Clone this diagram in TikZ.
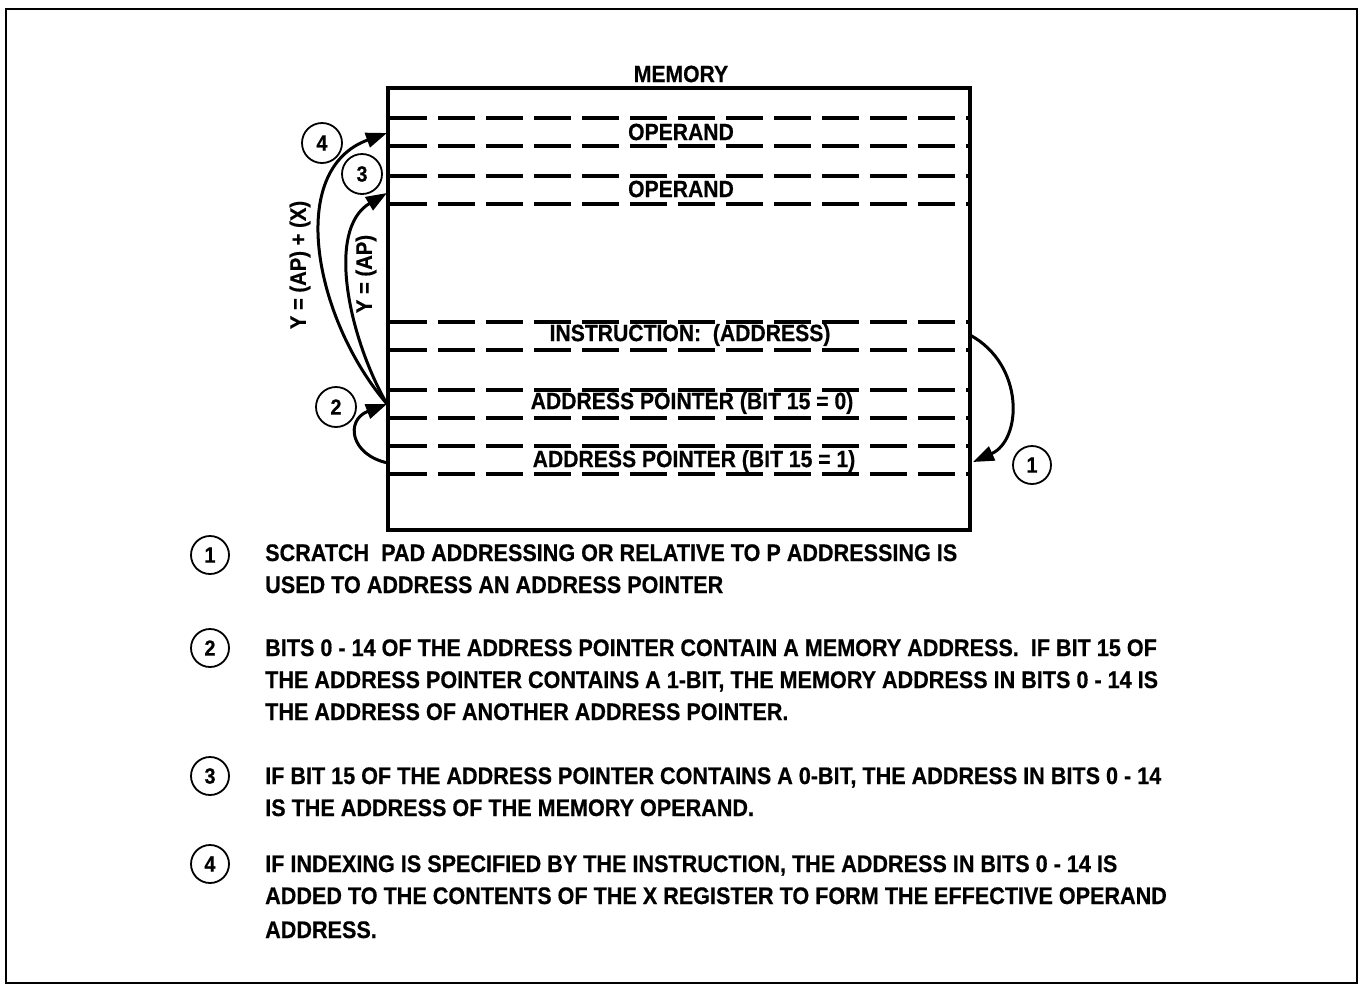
\documentclass[tikz,border=0pt]{standalone}
\usepackage{fontspec}
\setmainfont{Liberation Sans}[FakeStretch=0.9,BoldFeatures={FakeBold=0.5}]
\usetikzlibrary{arrows.meta}
\begin{document}
\begin{tikzpicture}[x=1pt,y=-1pt,
  frame/.style={line width=2pt},
  membox/.style={line width=4pt},
  rowline/.style={line width=3.2pt,dash pattern=on 37pt off 11pt},
  rowtext/.style={font=\fontsize{23.5}{23.5}\selectfont\bfseries,inner sep=0pt},
  numc/.style={circle,draw,line width=1.8pt,minimum size=38pt,inner sep=0pt,font=\fontsize{22}{22}\selectfont\bfseries},
  arr/.style={line width=3pt,-{Triangle[length=21pt,width=15pt]}},
  legtext/.style={anchor=base west,inner sep=0pt,font=\fontsize{24}{24}\selectfont\bfseries},
  sidelab/.style={rotate=90,inner sep=0pt,font=\fontsize{22.5}{22.5}\selectfont\bfseries}]
\useasboundingbox (0,0) rectangle (1364,986);
\draw[frame] (6,9) rectangle (1357,983);
% memory box
\draw[membox] (388,88) rectangle (970,530);
\node[rowtext] (memlab) at (681,74) {MEMORY};
% dashed rows
\foreach \yy in {118,146,176,204,322,350,390,418,446,474}
  \draw[rowline] (390,\yy) -- (968,\yy);
\node[rowtext] (op1) at (681,132) {OPERAND};
\node[rowtext] (op2) at (681,189) {OPERAND};
\node[rowtext] (instr) at (690,335) {INSTRUCTION:\ \ (ADDRESS)};
\node[rowtext] (ap0) at (692,403) {ADDRESS POINTER (BIT 15 = 0)};
\node[rowtext] (ap1) at (694,461) {ADDRESS POINTER (BIT 15 = 1)};
% connection points
\coordinate (instrR) at (970,335);
\coordinate (ap1R) at (973,462);
\coordinate (ap1L) at (388,463);
\coordinate (ap0L) at (387,404);
\coordinate (op2L) at (387,193);
\coordinate (op1L) at (387,133);
% arrows
\draw[arr] (instrR) .. controls (1025,365) and (1022,440) .. (ap1R);
\draw[arr] (ap1L) .. controls (350,455) and (345,420) .. (ap0L);
\draw[arr] (ap0L) .. controls (350,340) and (325,230) .. (op2L);
\draw[arr] (ap0L) .. controls (315,320) and (285,170) .. (op1L);
% circled numbers in diagram
\node[numc,minimum size=40pt] (c4) at (322,143) {4};
\node[numc,minimum size=40pt] (c3) at (362,174) {3};
\node[numc,minimum size=40pt] (c2) at (336,407) {2};
\node[numc] (c1) at (1032,465) {1};
\node[sidelab] (lab4) at (300,265) {Y = (AP) + (X)};
\node[sidelab] (lab3) at (366,274) {Y = (AP)};
% legend
\node[numc] (n1) at (210,555) {1};
\node[numc] (n2) at (210,648) {2};
\node[numc] (n3) at (210,776) {3};
\node[numc] (n4) at (210,864) {4};
\node[legtext] (t1a) at (265,561) {SCRATCH\ \ PAD ADDRESSING OR RELATIVE TO P ADDRESSING IS};
\node[legtext] (t1b) at (265,593) {USED TO ADDRESS AN ADDRESS POINTER};
\node[legtext] (t2a) at (265,656) {BITS 0 - 14 OF THE ADDRESS POINTER CONTAIN A MEMORY ADDRESS.\ \ IF BIT 15 OF};
\node[legtext] (t2b) at (265,688) {THE ADDRESS POINTER CONTAINS A 1-BIT, THE MEMORY ADDRESS IN BITS 0 - 14 IS};
\node[legtext] (t2c) at (265,720) {THE ADDRESS OF ANOTHER ADDRESS POINTER.};
\node[legtext] (t3a) at (265,784) {IF BIT 15 OF THE ADDRESS POINTER CONTAINS A 0-BIT, THE ADDRESS IN BITS 0 - 14};
\node[legtext] (t3b) at (265,816) {IS THE ADDRESS OF THE MEMORY OPERAND.};
\node[legtext] (t4a) at (265,872) {IF INDEXING IS SPECIFIED BY THE INSTRUCTION, THE ADDRESS IN BITS 0 - 14 IS};
\node[legtext] (t4b) at (265,904) {ADDED TO THE CONTENTS OF THE X REGISTER TO FORM THE EFFECTIVE OPERAND};
\node[legtext] (t4c) at (265,938) {ADDRESS.};
\end{tikzpicture}
\end{document}
